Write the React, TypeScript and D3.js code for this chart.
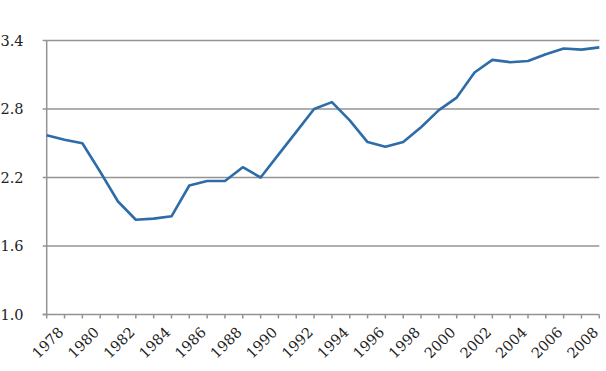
import React from 'react';
import * as d3 from 'd3';

// ==== data

const years = d3.range(1978, 2010);
const values = [
    2.57, 2.53, 2.50, 2.25, 1.99, 1.83, 1.84, 1.86, 2.13, 2.17,
    2.17, 2.29, 2.20, 2.40, 2.60, 2.80, 2.86, 2.70, 2.51, 2.47,
    2.51, 2.64, 2.79, 2.90, 3.12, 3.23, 3.21, 3.22, 3.28, 3.33,
    3.32, 3.34
];
const yTicks = [1.0, 1.6, 2.2, 2.8, 3.4];
const xLabels = d3.range(1978, 2009, 2);

// ====

const width = 606;
const height = 371;
const margin = { top: 40.5, right: 6.7, bottom: 56.5, left: 46.7 };
const serif = 'DejaVu Serif';
const grey = '#939393';

const x = d3.scaleLinear()
    .domain([1978, 2009])
    .range([margin.left, width - margin.right]);
const y = d3.scaleLinear()
    .domain([1.0, 3.4])
    .range([height - margin.bottom, margin.top]);

const line = d3.line<number>()
    .x((d, i) => x(years[i]))
    .y((d) => y(d));

function App() {
    const base = height - margin.bottom;

    return (
        <svg
            width={width}
            height={height}
            style={{ position: 'absolute', top: 0, left: 0, background: '#fff', fontFamily: serif }}>

            {/* gridlines + y ticks */}
            {yTicks.map((t) => (
                <g key={t}>
                    <line x1={margin.left - 4} x2={t === 1.0 ? margin.left : width - margin.right}
                        y1={y(t)} y2={y(t)} stroke={grey} strokeWidth={1.5} />
                    <text x={23.5} y={y(t)} dy="0.36em" textAnchor="end"
                        fontFamily={serif} fontSize={14.5} fill="#222">
                        {d3.format('.1f')(t)}
                    </text>
                </g>
            ))}

            {/* axes */}
            <line x1={margin.left} x2={margin.left} y1={margin.top} y2={base} stroke={grey} strokeWidth={1.5} />
            <line x1={margin.left - 4} x2={width - margin.right} y1={base} y2={base} stroke={grey} strokeWidth={1.5} />
            {years.map((yr) => (
                <line key={yr} x1={x(yr)} x2={x(yr)} y1={base} y2={base + 4} stroke={grey} strokeWidth={1.5} />
            ))}

            {xLabels.map((yr) => (
                <text key={yr}
                    transform={`translate(${x(yr) + 1},${base + 28}) rotate(-45)`}
                    textAnchor="middle" dy="0.36em"
                    fontFamily={serif} fontSize={14.5} fill="#222">
                    {yr}
                </text>
            ))}

            <path d={line(values) ?? ''} fill="none" stroke="#2d6ca8" strokeWidth={2.6} strokeLinejoin="round" />
        </svg>
    );
}

export default App;
